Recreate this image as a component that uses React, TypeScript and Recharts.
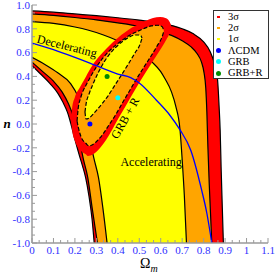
import { Area, ComposedChart, Line, Scatter, XAxis, YAxis } from "recharts";

const xMajor = [0, 0.1, 0.2, 0.3, 0.4, 0.5, 0.6, 0.7, 0.8, 0.9, 1, 1.1];
const yMajor = [-1, -0.8, -0.6, -0.4, -0.2, 0, 0.2, 0.4, 0.6, 0.8, 1];

// GRB only: contour edges, [Ωm, n]
const grbOuter3 = [
  [0, 0.95], [0.1, 0.94], [0.2, 0.925], [0.3, 0.91], [0.4, 0.893], [0.5, 0.873],
  [0.6, 0.848], [0.7, 0.8], [0.75, 0.76], [0.8, 0.69], [0.83, 0.61], [0.85, 0.51],
  [0.865, 0.37], [0.872, 0.15], [0.877, -0.05], [0.882, -0.4], [0.887, -0.7], [0.892, -1],
];
const grbOuter2 = [
  [0, 0.925], [0.1, 0.912], [0.2, 0.895], [0.3, 0.875], [0.4, 0.85], [0.5, 0.82],
  [0.6, 0.775], [0.65, 0.745], [0.7, 0.7], [0.74, 0.65], [0.77, 0.59], [0.79, 0.52],
  [0.802, 0.43], [0.81, 0.3], [0.815, 0.1], [0.82, -0.2], [0.826, -0.5], [0.832, -0.75], [0.838, -1],
];
const grbOuter1 = [
  [0, 0.86], [0.1, 0.845], [0.2, 0.815], [0.26, 0.79], [0.33, 0.75], [0.4, 0.7],
  [0.46, 0.65], [0.52, 0.58], [0.56, 0.52], [0.6, 0.44], [0.62, 0.38], [0.65, 0.27],
  [0.67, 0.15], [0.69, -0.05], [0.7, -0.3], [0.71, -0.6], [0.72, -1],
];
const grbInner1 = [
  [0, 0.56], [0.06, 0.5], [0.12, 0.43], [0.18, 0.34], [0.215, 0.23], [0.24, 0.1],
  [0.265, -0.1], [0.29, -0.3], [0.31, -0.45], [0.33, -0.7], [0.35, -1],
];
const grbInner2 = [
  [0, 0.52], [0.05, 0.44], [0.1, 0.36], [0.14, 0.27], [0.17, 0.17], [0.195, 0.05],
  [0.215, -0.08], [0.24, -0.3], [0.26, -0.45], [0.28, -0.7], [0.305, -1],
];
const grbInner3 = [
  [0, 0.49], [0.04, 0.42], [0.084, 0.34], [0.12, 0.26], [0.145, 0.18], [0.165, 0.1],
  [0.18, 0.01], [0.2, -0.13], [0.22, -0.26], [0.235, -0.35], [0.25, -0.45],
  [0.265, -0.6], [0.28, -0.8], [0.29, -1],
];

// GRB + R: closed contours, [Ωm, n low, n high]
const combo3 = [
  [0.182, 0.034, 0.034], [0.187, -0.05, 0.134], [0.2, -0.143, 0.225], [0.224, -0.218, 0.31],
  [0.252, -0.256, 0.4], [0.261, -0.269, 0.43], [0.284, -0.255, 0.5], [0.317, -0.202, 0.575],
  [0.345, -0.134, 0.63], [0.373, -0.05, 0.68], [0.401, 0.042, 0.725], [0.434, 0.143, 0.77],
  [0.466, 0.244, 0.81], [0.499, 0.345, 0.84], [0.531, 0.437, 0.868], [0.564, 0.529, 0.89],
  [0.597, 0.622, 0.899], [0.625, 0.706, 0.889], [0.643, 0.782, 0.853], [0.648, 0.832, 0.832],
];
const combo2 = [
  [0.21, 0.025, 0.025], [0.215, -0.021, 0.126], [0.228, -0.105, 0.227], [0.252, -0.164, 0.328],
  [0.266, -0.185, 0.374], [0.28, -0.176, 0.42], [0.303, -0.143, 0.487], [0.331, -0.084, 0.555],
  [0.359, -0.008, 0.612], [0.392, 0.084, 0.665], [0.424, 0.185, 0.709], [0.457, 0.286, 0.748],
  [0.49, 0.387, 0.777], [0.522, 0.479, 0.803], [0.555, 0.571, 0.824], [0.583, 0.655, 0.83],
  [0.606, 0.731, 0.819], [0.615, 0.782, 0.782],
];
const combo1 = [
  [0.247, 0.101, 0.101], [0.252, 0.042, 0.168], [0.266, 0.05, 0.252], [0.289, 0.092, 0.355],
  [0.308, 0.131, 0.429], [0.336, 0.192, 0.521], [0.354, 0.235, 0.569], [0.387, 0.328, 0.639],
  [0.42, 0.42, 0.691], [0.452, 0.513, 0.729], [0.48, 0.597, 0.748], [0.504, 0.672, 0.748],
  [0.513, 0.723, 0.723],
];

// decelerating / accelerating boundary
const transition = [
  [0, 0.68], [0.1, 0.625], [0.2, 0.56], [0.3, 0.49], [0.4, 0.42], [0.46, 0.39],
  [0.5, 0.345], [0.58, 0.2], [0.64, 0.08], [0.69, -0.05], [0.74, -0.22],
  [0.79, -0.55], [0.815, -0.75], [0.838, -1],
];

const lcdm = [{ x: 0.27, y: 0.0 }];
const grbBest = [{ x: 0.4, y: 0.22 }];
const comboBest = [{ x: 0.35, y: 0.4 }];

const notes = [
  { x: 0.163, y: 0.655, text: "Decelerating" },
  { x: 0.555, y: -0.32, text: "Accelerating" },
  { x: 0.434, y: 0.05, text: "GRB + R" },
];

const RED = "#ff0000";
const ORANGE = "#ffa500";
const YELLOW = "#ffff00";
const BLUE = "#0000ff";
const CYAN = "#00ffff";
const GREEN = "#008c00";

const legendItems = [
  { label: "3σ", color: RED, kind: "dash" },
  { label: "2σ", color: ORANGE, kind: "dash" },
  { label: "1σ", color: YELLOW, kind: "dash" },
  { label: "ΛCDM", color: BLUE, kind: "dot" },
  { label: "GRB", color: CYAN, kind: "dot" },
  { label: "GRB+R", color: GREEN, kind: "dot" },
];

const serif = "'Liberation Serif', 'Times New Roman', serif";
const frame = "#9a9a9a";
const tickBlue = "#3030ff";
const rotation: Record<string, number> = { Decelerating: 14, Accelerating: 0, "GRB + R": -61 };

const line = (arr: number[][]) => arr.map(([x, y]) => ({ x, y }));
const band = (arr: number[][]) => arr.map(([x, lo, hi]) => ({ x, lo, hi }));
const range = (d: any) => [d.lo, d.hi];

function withThirds(major: number[]) {
  const out: number[] = [major[0]];
  for (let i = 1; i < major.length; i++) {
    const a = major[i - 1];
    const step = (major[i] - a) / 3;
    out.push(a + step, a + 2 * step, major[i]);
  }
  return out;
}
const xTicks = withThirds(xMajor);
const yTicks = withThirds(yMajor);
const isMajor = (list: number[], v: number) => list.some((m) => Math.abs(m - v) < 1e-9);

const bottomTick = ({ x, y, payload }: any) => {
  const major = isMajor(xMajor, payload.value);
  return (
    <g>
      <line x1={x} x2={x} y1={y} y2={y - (major ? 5 : 3)} stroke={frame} />
      {major && (
        <text x={x} y={y + 11} textAnchor="middle" fill={tickBlue} fontSize={11} fontFamily={serif}>
          {String(payload.value)}
        </text>
      )}
    </g>
  );
};
const topTick = ({ x, y, payload }: any) => (
  <line x1={x} x2={x} y1={y} y2={y + (isMajor(xMajor, payload.value) ? 5 : 3)} stroke={frame} />
);
const leftTick = ({ x, y, payload }: any) => {
  const major = isMajor(yMajor, payload.value);
  return (
    <g>
      <line x1={x} x2={x + (major ? 5 : 3)} y1={y} y2={y} stroke={frame} />
      {major && (
        <text x={x - 2} y={y + 3.8} textAnchor="end" fill={tickBlue} fontSize={11} fontFamily={serif}>
          {payload.value.toFixed(1)}
        </text>
      )}
    </g>
  );
};
const rightTick = ({ x, y, payload }: any) => (
  <line x1={x} x2={x - (isMajor(yMajor, payload.value) ? 5 : 3)} y1={y} y2={y} stroke={frame} />
);

const xTitle = ({ viewBox }: any) => (
  <text x={viewBox.x + viewBox.width / 2 - 10} y={viewBox.y + 25} fontFamily={serif} fontSize={14} fill="#000">
    Ω<tspan dy={4} fontSize={10} fontStyle="italic">m</tspan>
  </text>
);
const yTitle = ({ viewBox }: any) => (
  <text x={viewBox.x + 7} y={viewBox.y + viewBox.height / 2 + 4} textAnchor="middle" fontFamily={serif}
    fontSize={13} fontWeight="bold" fontStyle="italic" fill="#000">
    n
  </text>
);

const axisLine = { stroke: frame, strokeWidth: 1.5 };
const common = { type: "monotone" as const, dot: false, activeDot: false, isAnimationActive: false, fillOpacity: 1 };

export default function App() {
  return (
    <div style={{ position: "absolute", left: 0, top: 0, width: 277, height: 274, background: "#fff" }}>
      <ComposedChart width={277} height={274} margin={{ top: 5, right: 9, bottom: 0, left: 0 }}>
        <XAxis dataKey="x" type="number" domain={[0, 1.1]} ticks={xTicks} interval={0} allowDataOverflow
          height={31} tickSize={0} tickMargin={0} tickLine={false} axisLine={axisLine} tick={bottomTick}
          label={{ content: xTitle }} />
        <XAxis xAxisId="top" orientation="top" type="number" domain={[0, 1.1]} ticks={xTicks} interval={0}
          allowDataOverflow height={0} tickSize={0} tickMargin={0} tickLine={false} axisLine={axisLine} tick={topTick} />
        <YAxis type="number" domain={[-1, 1]} ticks={yTicks} interval={0} allowDataOverflow width={32}
          tickSize={0} tickMargin={0} tickLine={false} axisLine={axisLine} tick={leftTick}
          label={{ content: yTitle }} />
        <YAxis yAxisId="right" orientation="right" type="number" domain={[-1, 1]} ticks={yTicks} interval={0}
          allowDataOverflow width={0} tickSize={0} tickMargin={0} tickLine={false} axisLine={axisLine} tick={rightTick} />

        <Area {...common} data={line(grbOuter3)} dataKey="y" baseValue={-1} fill={RED} stroke="#000" strokeWidth={1.2} />
        <Area {...common} data={line(grbOuter2)} dataKey="y" baseValue={-1} fill={ORANGE} stroke="#000" strokeWidth={1.2} />
        <Area {...common} data={line(grbOuter1)} dataKey="y" baseValue={-1} fill={YELLOW} stroke="#000" strokeWidth={1.2} />
        <Area {...common} data={line(grbInner1)} dataKey="y" baseValue={-1} fill={ORANGE} stroke="#000" strokeWidth={1.2} />
        <Area {...common} data={line(grbInner2)} dataKey="y" baseValue={-1} fill={RED} stroke="#000" strokeWidth={1.2} />
        <Area {...common} data={line(grbInner3)} dataKey="y" baseValue={-1} fill="#fff" stroke="#000" strokeWidth={1.2} />

        <Area {...common} data={band(combo3)} dataKey={range} fill={RED} stroke="none" />
        <Area {...common} data={band(combo2)} dataKey={range} fill={ORANGE} stroke="#000" strokeWidth={1.2} strokeDasharray="4 2" />
        <Area {...common} data={band(combo1)} dataKey={range} fill={YELLOW} stroke="#000" strokeWidth={1.2} strokeDasharray="4 2" />

        <Line data={line(transition)} dataKey="y" type="monotone" stroke={BLUE} strokeWidth={1.3} dot={false}
          activeDot={false} isAnimationActive={false} />

        <Scatter data={lcdm} dataKey="y" isAnimationActive={false}
          shape={(p: any) => <circle cx={p.cx} cy={p.cy} r={2.5} fill={BLUE} />} />
        <Scatter data={grbBest} dataKey="y" isAnimationActive={false}
          shape={(p: any) => <circle cx={p.cx} cy={p.cy} r={2.5} fill={CYAN} />} />
        <Scatter data={comboBest} dataKey="y" isAnimationActive={false}
          shape={(p: any) => <circle cx={p.cx} cy={p.cy} r={2.5} fill={GREEN} />} />
        <Scatter data={notes} dataKey="y" isAnimationActive={false}
          shape={(p: any) => (
            <text x={p.cx} y={p.cy} textAnchor="middle" dominantBaseline="central" fontFamily={serif} fontSize={12}
              fill="#000" transform={`rotate(${rotation[p.payload.text]} ${p.cx} ${p.cy})`}>
              {p.payload.text}
            </text>
          )} />
      </ComposedChart>

      <div style={{ position: "absolute", left: 213, top: 10, width: 56, height: 69, boxSizing: "border-box",
        border: "1px solid #333", background: "#fff", fontFamily: serif, fontSize: 10.5, paddingTop: 0.5 }}>
        {legendItems.map((it) => (
          <div key={it.label} style={{ display: "flex", alignItems: "center", height: 11.2, lineHeight: "10px" }}>
            {it.kind === "dash" ? (
              <span style={{ width: 3, height: 2, background: it.color, marginLeft: 3, marginRight: 8 }} />
            ) : (
              <span style={{ width: 5, height: 5, borderRadius: "50%", background: it.color, marginLeft: 2, marginRight: 7 }} />
            )}
            <span>{it.label}</span>
          </div>
        ))}
      </div>
    </div>
  );
}
